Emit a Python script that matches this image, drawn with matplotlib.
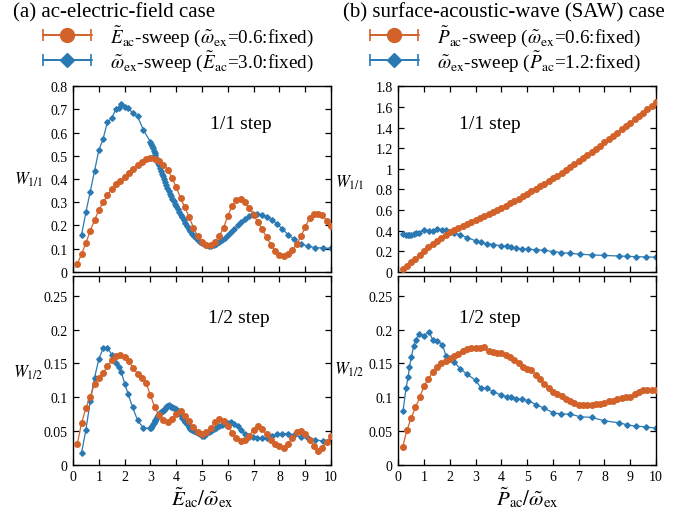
import numpy as np
import matplotlib
matplotlib.use("Agg")
import matplotlib.pyplot as plt
from matplotlib.lines import Line2D
from matplotlib.collections import LineCollection
from matplotlib.container import ErrorbarContainer
from matplotlib.legend_handler import HandlerErrorbar
from matplotlib.ticker import MultipleLocator, FuncFormatter

plt.rcParams['font.family'] = ['Liberation Serif', 'DejaVu Serif']
plt.rcParams['mathtext.fontset'] = 'stix'

ORANGE = '#d2622a'
BLUE = '#2a79b3'

# ---------------- (a) ac-electric-field case ----------------
# E_ac sweep (omega_ex = 0.6 fixed): E_ac = 0.1 ... 6.0
e_ac_values = np.round(np.arange(0.1, 6.01, 0.1), 1)
a_orange_x = e_ac_values / 0.6
a_orange_w11 = [0.035, 0.076, 0.125, 0.176, 0.223, 0.265, 0.300, 0.330, 0.356, 0.377,
                0.392, 0.407, 0.424, 0.442, 0.459, 0.475, 0.486, 0.491, 0.488, 0.476,
                0.462, 0.440, 0.406, 0.364, 0.318, 0.278, 0.236, 0.190, 0.152, 0.127,
                0.114, 0.117, 0.128, 0.153, 0.190, 0.241, 0.285, 0.309, 0.314, 0.300,
                0.276, 0.246, 0.213, 0.183, 0.148, 0.117, 0.091, 0.073, 0.068, 0.076,
                0.095, 0.118, 0.153, 0.193, 0.232, 0.248, 0.251, 0.243, 0.220, 0.196]
a_orange_w12 = [0.031, 0.062, 0.084, 0.101, 0.120, 0.128, 0.136, 0.146, 0.155, 0.161,
                0.162, 0.160, 0.153, 0.143, 0.135, 0.128, 0.121, 0.103, 0.085, 0.073,
                0.066, 0.063, 0.067, 0.075, 0.079, 0.072, 0.064, 0.056, 0.048, 0.046,
                0.048, 0.055, 0.063, 0.068, 0.065, 0.057, 0.047, 0.040, 0.035, 0.036,
                0.043, 0.052, 0.057, 0.053, 0.045, 0.037, 0.030, 0.027, 0.025, 0.031,
                0.040, 0.048, 0.050, 0.045, 0.037, 0.028, 0.021, 0.024, 0.034, 0.042]

# omega_ex sweep (E_ac = 3.0 fixed)
a_blue_x = [0.333, 0.5, 0.667, 0.833, 1.0, 1.167, 1.333, 1.5, 1.667, 1.765, 1.875, 2.0,
            2.143, 2.308, 2.5, 2.727, 3.000, 3.030, 3.061, 3.093, 3.125, 3.158, 3.191,
            3.226, 3.261, 3.297, 3.333, 3.371, 3.409, 3.448, 3.488, 3.529, 3.571, 3.614,
            3.659, 3.704, 3.750, 3.797, 3.846, 3.896, 3.947, 4.000, 4.054, 4.110, 4.167,
            4.225, 4.286, 4.348, 4.412, 4.478, 4.545, 4.615, 4.688, 4.762, 4.839, 4.918,
            5.000, 5.085, 5.172, 5.263, 5.357, 5.455, 5.556, 5.660, 5.769, 5.882, 6.000,
            6.122, 6.250, 6.383, 6.522, 6.667, 6.818, 6.977, 7.143, 7.317, 7.500, 7.692,
            7.895, 8.108, 8.333, 8.571, 8.824, 9.091, 9.375, 9.677, 10.000]
a_blue_w11 = [0.160, 0.258, 0.345, 0.435, 0.524, 0.574, 0.646, 0.662, 0.703, 0.708, 0.724, 0.710,
              0.705, 0.686, 0.670, 0.612, 0.560, 0.552, 0.543, 0.533, 0.523, 0.513, 0.503,
              0.492, 0.481, 0.470, 0.459, 0.447, 0.435, 0.423, 0.411, 0.399, 0.386, 0.373,
              0.361, 0.349, 0.337, 0.326, 0.315, 0.304, 0.293, 0.282, 0.270, 0.258, 0.246,
              0.234, 0.222, 0.210, 0.198, 0.186, 0.174, 0.163, 0.153, 0.144, 0.136, 0.129,
              0.123, 0.118, 0.114, 0.112, 0.112, 0.115, 0.120, 0.127, 0.135, 0.145, 0.158,
              0.172, 0.186, 0.200, 0.214, 0.227, 0.239, 0.247, 0.250, 0.246, 0.237, 0.225,
              0.207, 0.185, 0.160, 0.139, 0.121, 0.110, 0.104, 0.102, 0.101]
a_blue_w12 = [0.018, 0.052, 0.094, 0.129, 0.156, 0.173, 0.173, 0.163, 0.150, 0.145, 0.137, 0.120,
              0.104, 0.085, 0.066, 0.054, 0.054, 0.055, 0.057, 0.060, 0.062, 0.064, 0.066,
              0.068, 0.071, 0.073, 0.075, 0.077, 0.078, 0.079, 0.080, 0.081, 0.083, 0.085,
              0.087, 0.088, 0.087, 0.086, 0.085, 0.084, 0.083, 0.082, 0.080, 0.077, 0.073,
              0.069, 0.066, 0.063, 0.060, 0.056, 0.053, 0.051, 0.050, 0.049, 0.047, 0.045,
              0.043, 0.043, 0.045, 0.048, 0.050, 0.053, 0.055, 0.057, 0.059, 0.061, 0.062,
              0.063, 0.061, 0.057, 0.051, 0.045, 0.041, 0.041, 0.040, 0.039, 0.040, 0.043,
              0.045, 0.046, 0.046, 0.044, 0.041, 0.039, 0.037, 0.035, 0.037]

# ---------------- (b) SAW case ----------------
p_ac_values = np.round(np.arange(0.1, 6.01, 0.1), 1)
b_orange_x = p_ac_values / 0.6
b_orange_w11 = [0.023, 0.057, 0.092, 0.127, 0.162, 0.200, 0.235, 0.268, 0.300, 0.330,
                0.360, 0.390, 0.408, 0.426, 0.444, 0.463, 0.481, 0.500, 0.519, 0.539,
                0.559, 0.579, 0.599, 0.620, 0.642, 0.664, 0.686, 0.709, 0.732, 0.755,
                0.779, 0.804, 0.829, 0.854, 0.879, 0.905, 0.932, 0.959, 0.987, 1.014,
                1.042, 1.070, 1.100, 1.130, 1.161, 1.192, 1.223, 1.255, 1.286, 1.318,
                1.350, 1.381, 1.413, 1.445, 1.478, 1.511, 1.544, 1.578, 1.611, 1.645]
b_orange_w12 = [0.026, 0.051, 0.069, 0.085, 0.100, 0.117, 0.127, 0.137, 0.145, 0.150,
                0.154, 0.157, 0.161, 0.164, 0.169, 0.172, 0.173, 0.173, 0.173, 0.174,
                0.169, 0.167, 0.165, 0.166, 0.163, 0.159, 0.155, 0.150, 0.145, 0.142,
                0.140, 0.133, 0.127, 0.120, 0.113, 0.108, 0.105, 0.102, 0.098, 0.094,
                0.092, 0.089, 0.088, 0.088, 0.089, 0.090, 0.090, 0.092, 0.094, 0.095,
                0.097, 0.099, 0.100, 0.101, 0.104, 0.107, 0.110, 0.111, 0.111, 0.110]

b_blue_x = [0.18, 0.3, 0.38, 0.43, 0.5, 0.6, 0.67, 0.8, 1.0, 1.2, 1.33, 1.5,
            1.71, 1.85, 2.0, 2.18, 2.4, 2.67, 3.0, 3.2, 3.43, 3.69, 4.0, 4.2, 4.36, 4.57, 4.8,
            5.05, 5.33, 5.65, 6.0, 6.32, 6.67, 7.06, 7.5, 8.0, 8.57, 8.89, 9.23, 9.6, 10.0]
b_blue_w11 = [0.362, 0.356, 0.352, 0.352, 0.360, 0.368, 0.372, 0.380,
              0.402, 0.398, 0.395, 0.412, 0.405, 0.402, 0.390, 0.378, 0.356, 0.332, 0.300,
              0.285, 0.272, 0.263, 0.252, 0.245, 0.238, 0.228, 0.222, 0.217, 0.214, 0.208,
              0.196, 0.186, 0.178, 0.170, 0.163, 0.158, 0.152, 0.149, 0.146, 0.143, 0.141]
b_blue_w12 = [0.079, 0.113, 0.130, 0.144, 0.159, 0.176, 0.185, 0.193,
              0.191, 0.197, 0.185, 0.183, 0.178, 0.161, 0.158, 0.152, 0.142, 0.134, 0.125,
              0.114, 0.113, 0.108, 0.103, 0.101, 0.101, 0.098, 0.097, 0.095, 0.089, 0.084,
              0.077, 0.075, 0.075, 0.071, 0.070, 0.065, 0.062, 0.059, 0.057, 0.056, 0.054]

# ---------------- figure ----------------
fig = plt.figure(figsize=(6.89, 5.10), dpi=100)

axL_top = fig.add_axes([0.1060, 0.4653, 0.3745, 0.3635])
axL_bot = fig.add_axes([0.1060, 0.0869, 0.3745, 0.3706])
axR_top = fig.add_axes([0.5781, 0.4653, 0.3740, 0.3635])
axR_bot = fig.add_axes([0.5781, 0.0869, 0.3740, 0.3706])

line_kw = dict(lw=0.9)
o_kw = dict(color=ORANGE, marker='o', ms=4.0, mec=ORANGE, mfc=ORANGE, **line_kw)
b_kw = dict(color=BLUE, marker='D', ms=2.8, mec=BLUE, mfc=BLUE, **line_kw)

axL_top.plot(a_orange_x, a_orange_w11, **o_kw, zorder=3)
axL_top.plot(a_blue_x, a_blue_w11, **b_kw, zorder=2)
axL_bot.plot(a_orange_x, a_orange_w12, **o_kw, zorder=3)
axL_bot.plot(a_blue_x, a_blue_w12, **b_kw, zorder=2)
axR_top.plot(b_orange_x, b_orange_w11, **o_kw, zorder=3)
axR_top.plot(b_blue_x, b_blue_w11, **b_kw, zorder=2)
axR_bot.plot(b_orange_x, b_orange_w12, **o_kw, zorder=3)
axR_bot.plot(b_blue_x, b_blue_w12, **b_kw, zorder=2)

fmt = FuncFormatter(lambda v, p: ('%g' % round(v, 4)))

def style(ax, ymax, ystep, show_x):
    ax.set_xlim(0, 10)
    ax.set_ylim(0, ymax)
    ax.xaxis.set_major_locator(MultipleLocator(1))
    ax.yaxis.set_major_locator(MultipleLocator(ystep))
    ax.yaxis.set_major_formatter(fmt)
    ax.xaxis.set_major_formatter(fmt)
    ax.tick_params(direction='in', top=True, right=True, length=4, width=0.9,
                   labelsize=10, pad=4)
    if not show_x:
        ax.tick_params(labelbottom=False)
    for s in ax.spines.values():
        s.set_linewidth(1.0)

style(axL_top, 0.8, 0.1, False)
style(axL_bot, 0.28, 0.05, True)
style(axR_top, 1.8, 0.2, False)
style(axR_bot, 0.28, 0.05, True)

for ax, lab, xf, yf in [(axL_top, r'$W_{1/1}$', -0.172, 0.50),
                        (axL_bot, r'$W_{1/2}$', -0.172, 0.49),
                        (axR_top, r'$W_{1/1}$', -0.19, 0.484),
                        (axR_bot, r'$W_{1/2}$', -0.19, 0.506)]:
    ax.set_ylabel(lab, rotation=0, fontsize=12, va='center', ha='center')
    ax.yaxis.set_label_coords(xf, yf)

axL_top.text(0.53, 0.797, '1/1 step', transform=axL_top.transAxes, fontsize=14, va='center')
axL_bot.text(0.522, 0.781, '1/2 step', transform=axL_bot.transAxes, fontsize=14, va='center')
axR_top.text(0.236, 0.80, '1/1 step', transform=axR_top.transAxes, fontsize=14, va='center')
axR_bot.text(0.236, 0.781, '1/2 step', transform=axR_bot.transAxes, fontsize=14, va='center')

axL_bot.set_xlabel(r'$\tilde{E}_{\rm ac}/\tilde{\omega}_{\rm ex}$', fontsize=15, labelpad=1)
axR_bot.set_xlabel(r'$\tilde{P}_{\rm ac}/\tilde{\omega}_{\rm ex}$', fontsize=15, labelpad=1)

fig.text(13 / 689, 1 - 13 / 510, '(a) ac-electric-field case', fontsize=15, va='center', ha='left')
fig.text(343 / 689, 1 - 13 / 510, '(b) surface-acoustic-wave (SAW) case', fontsize=15, va='center', ha='left')


def legend_handle(color, marker, ms):
    pl = Line2D([], [], color=color, marker=marker, ms=ms, mfc=color, mec=color, lw=1.2)
    cap = Line2D([], [], color=color, ms=8, mew=1.2)
    bar = LineCollection([], colors=[color], linewidths=1.2)
    return ErrorbarContainer((pl, (cap,), (bar,)), has_xerr=True, has_yerr=False)

leg_fs = 13.8
hmap = {ErrorbarContainer: HandlerErrorbar(xerr_size=1.25)}
leg_kw = dict(loc='upper left', frameon=False, fontsize=leg_fs, handlelength=2.55,
              handletextpad=0.95, labelspacing=0.05, borderpad=0, borderaxespad=0,
              handler_map=hmap, numpoints=1)

hA = [legend_handle(ORANGE, 'o', 10), legend_handle(BLUE, 'D', 7.5)]
fig.legend(hA, [r'$\tilde{E}_{\rm ac}$-sweep ($\tilde{\omega}_{\rm ex}$=0.6:fixed)',
                r'$\tilde{\omega}_{\rm ex}$-sweep ($\tilde{E}_{\rm ac}$=3.0:fixed)'],
           bbox_to_anchor=(43 / 689, 1 - 24 / 510), **leg_kw)
hB = [legend_handle(ORANGE, 'o', 10), legend_handle(BLUE, 'D', 7.5)]
fig.legend(hB, [r'$\tilde{P}_{\rm ac}$-sweep ($\tilde{\omega}_{\rm ex}$=0.6:fixed)',
                r'$\tilde{\omega}_{\rm ex}$-sweep ($\tilde{P}_{\rm ac}$=1.2:fixed)'],
           bbox_to_anchor=(370 / 689, 1 - 24 / 510), **leg_kw)

fig.savefig('out.png', dpi=100)
